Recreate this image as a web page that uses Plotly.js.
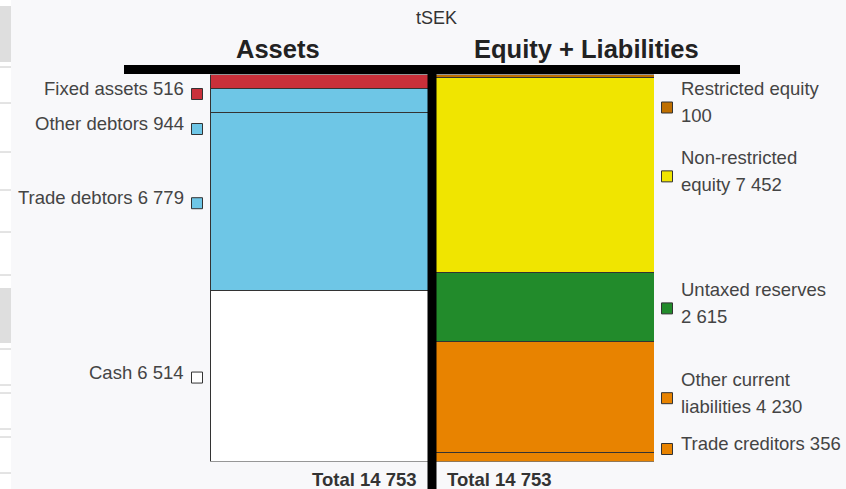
<!DOCTYPE html>
<html>
<head>
<meta charset="utf-8">
<script src="https://cdn.plot.ly/plotly-3.0.1.min.js"></script>
<style>
  html, body { margin: 0; padding: 0; background: #f8f8fa; }
  #plot { width: 846px; height: 489px; }
</style>
</head>
<body>
<div id="plot"></div>
<script>
// balance sheet data (tSEK)
let assetNames = ["Fixed assets", "Other debtors", "Trade debtors", "Cash"];
let assetValues = [516, 944, 6779, 6514];
let assetColors = ["#c9303a", "#6ec6e6", "#6ec6e6", "#ffffff"];

let liabNames = ["Restricted equity", "Non-restricted equity", "Untaxed reserves", "Other current liabilities", "Trade creditors"];
let liabValues = [100, 7452, 2615, 4230, 356];
let liabColors = ["#bf6f00", "#f0e500", "#228b2b", "#e88300", "#e88300"];

let columns = ["Assets", "Equity + Liabilities"];

// page geometry in pixels
const W = 846, H = 489;
const barLeft = 210, barRight = 654;
const barTop = 74.5, barBottom = 461.5;
const lineLeft = 124, lineRight = 740, lineY = 69.5;
const font = "Liberation Sans, Arial, sans-serif";
const labelSize = 18.5;

function fmt(n) {
    return String(n).replace(/\B(?=(\d{3})+(?!\d))/g, " ");
}

function sum(a) {
    return a.reduce((s, v) => s + v, 0);
}

// word wrap by measured width, the number stays in one piece
let ctx = document.createElement("canvas").getContext("2d");
ctx.font = labelSize + "px 'Liberation Sans'";
function wrap(name, value, maxWidth) {
    let words = name.split(" ").concat([fmt(value)]);
    let lines = [];
    let cur = "";
    words.forEach(w => {
        let test = cur ? cur + " " + w : w;
        if (ctx.measureText(test).width > maxWidth && cur) {
            lines.push(cur);
            cur = w;
        } else {
            cur = test;
        }
    });
    if (cur) lines.push(cur);
    return lines;
}

let totalAssets = sum(assetValues);
let totalLiab = sum(liabValues);
let yMax = Math.max(totalAssets, totalLiab);

function yPx(v) {
    return barTop + v * (barBottom - barTop) / yMax;
}

// build the bar traces
let data = [];
assetNames.forEach((n, i) => {
    data.push({
        x: [columns[0]], y: [assetValues[i]], name: n, type: "bar",
        marker: { color: assetColors[i], line: { color: "#333", width: 1 } },
        hoverinfo: "skip", showlegend: false
    });
});
liabNames.forEach((n, i) => {
    data.push({
        x: [columns[1]], y: [liabValues[i]], name: n, type: "bar",
        marker: { color: liabColors[i], line: { color: "#333", width: 1 } },
        hoverinfo: "skip", showlegend: false
    });
});

// place labels next to segment centres, pushing apart when they collide
function placeLabels(values, lines) {
    let cum = 0;
    let items = values.map((v, i) => {
        let c = yPx(cum + v / 2);
        cum += v;
        let h = lines[i].length === 1 ? 16 : 43;
        return { center: c - 4, h: h };
    });
    let gap = 19;
    let minTop = barTop + 6;
    let maxBottom = barBottom - 10;
    // forward pass
    let prevBottom = minTop - gap;
    items.forEach(it => {
        let top = it.center - it.h / 2;
        if (top < prevBottom + gap) top = prevBottom + gap;
        it.center = top + it.h / 2;
        prevBottom = top + it.h;
    });
    // backward pass
    let nextTop = maxBottom + gap;
    for (let i = items.length - 1; i >= 0; i--) {
        let it = items[i];
        let bottom = it.center + it.h / 2;
        if (bottom > nextTop - gap) bottom = nextTop - gap;
        it.center = bottom - it.h / 2;
        nextTop = bottom - it.h;
    }
    return items.map(it => it.center);
}

let annotations = [];
let leftLines = assetNames.map((n, i) => [n + " " + fmt(assetValues[i])]);
let rightLines = liabNames.map((n, i) => wrap(n, liabValues[i], 166));
let leftCenters = placeLabels(assetValues, leftLines);
let rightCenters = placeLabels(liabValues, rightLines);

let mx = [], my = [], mc = [];
leftCenters.forEach((c, i) => {
    annotations.push({
        xref: "x2", yref: "y2", x: 186, y: c, xanchor: "right", yanchor: "middle",
        text: leftLines[i][0], showarrow: false,
        font: { family: font, size: labelSize, color: "#444" }
    });
    mx.push(197); my.push(c + 5.5); mc.push(assetColors[i]);
});
rightCenters.forEach((c, i) => {
    let ls = rightLines[i];
    ls.forEach((t, j) => {
        annotations.push({
            xref: "x2", yref: "y2", x: 679, y: c + (j - (ls.length - 1) / 2) * 27,
            xanchor: "left", yanchor: "middle",
            text: t, showarrow: false,
            font: { family: font, size: labelSize, color: "#444" }
        });
    });
    mx.push(667); my.push(c + 5.5); mc.push(liabColors[i]);
});

// legend squares
data.push({
    x: mx, y: my, xaxis: "x2", yaxis: "y2", mode: "markers", type: "scatter",
    marker: { symbol: "square", size: 11, color: mc, line: { color: "#333", width: 1 } },
    hoverinfo: "skip", showlegend: false
});

// headings and totals
let divX = (barLeft + barRight) / 2;
annotations.push({
    xref: "x2", yref: "y2", x: 436, y: 18, text: "tSEK", showarrow: false,
    font: { family: font, size: 18, color: "#333" }
});
annotations.push({
    xref: "x2", yref: "y2", x: (lineLeft + divX) / 2, y: 49, text: "<b>" + columns[0] + "</b>",
    showarrow: false, font: { family: font, size: 25.5, color: "#222" }
});
annotations.push({
    xref: "x2", yref: "y2", x: (divX + lineRight) / 2, y: 49, text: "<b>" + columns[1] + "</b>",
    showarrow: false, font: { family: font, size: 25.5, color: "#222" }
});
annotations.push({
    xref: "x2", yref: "y2", x: divX - 13, y: 479, xanchor: "right",
    text: "<b>Total " + fmt(totalAssets) + "</b>", showarrow: false,
    font: { family: font, size: 18.5, color: "#333" }
});
annotations.push({
    xref: "x2", yref: "y2", x: divX + 13, y: 479, xanchor: "left",
    text: "<b>Total " + fmt(totalLiab) + "</b>", showarrow: false,
    font: { family: font, size: 18.5, color: "#333" }
});

// page artifacts on the left edge
let shapes = [
    { type: "rect", xref: "x2", yref: "y2", x0: 0, x1: 11, y0: 0, y1: H, fillcolor: "#ffffff", line: { width: 0 }, layer: "below" },
    { type: "rect", xref: "x2", yref: "y2", x0: 0, x1: 11, y0: 6, y1: 62, fillcolor: "#dedede", line: { width: 0 }, layer: "below" },
    { type: "rect", xref: "x2", yref: "y2", x0: 0, x1: 11, y0: 288, y1: 343, fillcolor: "#dedede", line: { width: 0 }, layer: "below" }
];
[67, 103, 152, 190, 232, 275, 349, 385, 393, 429, 437, 473].forEach(y => {
    shapes.push({ type: "line", xref: "x2", yref: "y2", x0: 0, x1: 11, y0: y, y1: y, line: { color: "#c8c8c8", width: 1 }, layer: "below" });
});
// heading rule and divider
shapes.push({ type: "line", xref: "x2", yref: "y2", x0: lineLeft, x1: lineRight, y0: lineY, y1: lineY, line: { color: "#000", width: 9 } });
shapes.push({ type: "line", xref: "x", yref: "y2", x0: 0.5, x1: 0.5, y0: lineY - 4.5, y1: H, line: { color: "#000", width: 9 } });

let layout = {
    width: W, height: H,
    margin: { l: 0, r: 0, t: 0, b: 0, pad: 0 },
    paper_bgcolor: "#f8f8fa",
    plot_bgcolor: "rgba(0,0,0,0)",
    barmode: "stack",
    bargap: 0,
    showlegend: false,
    xaxis: {
        domain: [barLeft / W, barRight / W], range: [-0.5, 1.5],
        showticklabels: false, showgrid: false, zeroline: false, fixedrange: true
    },
    yaxis: {
        domain: [(H - barBottom) / H, (H - barTop) / H], range: [yMax, 0],
        showticklabels: false, showgrid: false, zeroline: false, fixedrange: true
    },
    xaxis2: { domain: [0, 1], range: [0, W], anchor: "y2", visible: false, fixedrange: true },
    yaxis2: { domain: [0, 1], range: [H, 0], anchor: "x2", visible: false, fixedrange: true },
    annotations: annotations,
    shapes: shapes
};

Plotly.newPlot("plot", data, layout, { staticPlot: true });
</script>
</body>
</html>
